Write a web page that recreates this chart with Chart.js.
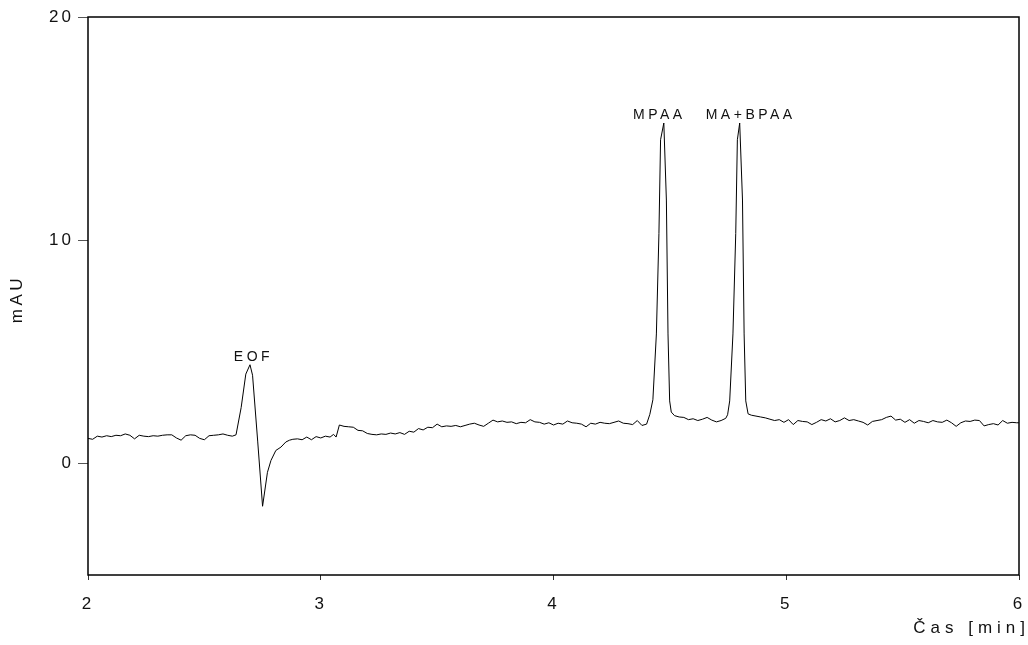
<!DOCTYPE html>
<html>
<head>
<meta charset="utf-8">
<title>Elektroferogram</title>
<script src="https://cdn.jsdelivr.net/npm/chart.js@4.4.0/dist/chart.umd.min.js"></script>
<style>
  html, body { margin: 0; padding: 0; background: #fff; overflow: hidden; }
  #wrap { position: relative; width: 1028px; height: 645px; }
  #elfChart { display: block; }
</style>
</head>
<body>
<div id="wrap"><canvas id="elfChart"></canvas></div>
<script>
// detector trace: time [min] and absorbance [mAU]
const times = [
  2.00, 2.02, 2.04, 2.06, 2.08, 2.10, 2.12, 2.14, 2.16, 2.18,
  2.20, 2.22, 2.24, 2.26, 2.28, 2.30, 2.32, 2.34, 2.36, 2.38,
  2.40, 2.42, 2.44, 2.46, 2.48, 2.50, 2.52, 2.54, 2.56, 2.58,
  2.60, 2.62, 2.636, 2.658, 2.678, 2.696, 2.707, 2.729, 2.750, 2.771,
  2.786, 2.807, 2.829, 2.850, 2.866, 2.88, 2.90, 2.92, 2.94, 2.96,
  2.98, 3.00, 3.02, 3.04, 3.055, 3.066, 3.08, 3.10, 3.12, 3.14,
  3.16, 3.18, 3.20, 3.22, 3.24, 3.26, 3.28, 3.30, 3.32, 3.34,
  3.36, 3.38, 3.40, 3.42, 3.44, 3.46, 3.48, 3.50, 3.52, 3.54,
  3.56, 3.58, 3.60, 3.62, 3.64, 3.66, 3.68, 3.70, 3.72, 3.74,
  3.76, 3.78, 3.80, 3.82, 3.84, 3.86, 3.88, 3.90, 3.92, 3.94,
  3.96, 3.98, 4.00, 4.02, 4.04, 4.06, 4.08, 4.10, 4.12, 4.14,
  4.16, 4.18, 4.20, 4.22, 4.24, 4.26, 4.28, 4.30, 4.32, 4.34,
  4.36, 4.38, 4.40, 4.414, 4.427, 4.442, 4.453, 4.460, 4.474, 4.485,
  4.492, 4.499, 4.506, 4.52, 4.54, 4.56, 4.58, 4.60, 4.62, 4.64,
  4.66, 4.68, 4.70, 4.72, 4.74, 4.748, 4.757, 4.771, 4.783, 4.790,
  4.800, 4.812, 4.819, 4.826, 4.836, 4.85, 4.87, 4.89, 4.91, 4.93,
  4.95, 4.97, 4.99, 5.01, 5.03, 5.05, 5.07, 5.09, 5.11, 5.13,
  5.15, 5.17, 5.19, 5.21, 5.23, 5.25, 5.27, 5.29, 5.31, 5.33,
  5.35, 5.37, 5.39, 5.41, 5.43, 5.45, 5.47, 5.49, 5.51, 5.53,
  5.55, 5.57, 5.59, 5.61, 5.63, 5.65, 5.67, 5.69, 5.71, 5.73,
  5.75, 5.77, 5.79, 5.81, 5.83, 5.85, 5.87, 5.89, 5.91, 5.93,
  5.95, 5.97, 5.99, 6.00
];
const absorbance = [
  1.12, 1.08, 1.22, 1.18, 1.24, 1.20, 1.26, 1.24, 1.32, 1.26,
  1.10, 1.26, 1.22, 1.20, 1.24, 1.22, 1.26, 1.28, 1.28, 1.14,
  1.04, 1.24, 1.28, 1.26, 1.12, 1.06, 1.24, 1.26, 1.28, 1.32,
  1.26, 1.22, 1.28, 2.50, 4.00, 4.42, 3.95, 1.00, -1.92, -0.40,
  0.13, 0.58, 0.73, 0.96, 1.04, 1.08, 1.10, 1.06, 1.18, 1.06,
  1.20, 1.14, 1.22, 1.18, 1.30, 1.18, 1.72, 1.66, 1.64, 1.62,
  1.48, 1.46, 1.34, 1.30, 1.28, 1.32, 1.30, 1.36, 1.32, 1.38,
  1.30, 1.44, 1.40, 1.56, 1.50, 1.62, 1.60, 1.76, 1.64, 1.68,
  1.66, 1.70, 1.64, 1.70, 1.76, 1.80, 1.72, 1.66, 1.80, 1.94,
  1.86, 1.90, 1.84, 1.86, 1.78, 1.84, 1.82, 1.96, 1.86, 1.84,
  1.76, 1.82, 1.72, 1.80, 1.76, 1.90, 1.82, 1.80, 1.76, 1.64,
  1.80, 1.76, 1.84, 1.80, 1.78, 1.84, 1.90, 1.80, 1.78, 1.74,
  1.92, 1.70, 1.76, 2.20, 2.85, 5.80, 10.30, 14.50, 15.25, 11.80,
  5.80, 2.80, 2.30, 2.14, 2.08, 2.06, 1.96, 2.00, 1.92, 1.98,
  2.06, 1.94, 1.86, 1.92, 2.02, 2.18, 2.80, 5.80, 10.30, 14.50,
  15.25, 11.80, 5.80, 2.80, 2.22, 2.16, 2.12, 2.08, 2.04, 1.98,
  1.92, 1.96, 1.84, 1.96, 1.74, 1.92, 1.88, 1.86, 1.74, 1.84,
  1.96, 1.90, 2.00, 1.86, 1.92, 2.04, 1.92, 1.96, 1.90, 1.84,
  1.72, 1.88, 1.92, 1.96, 2.06, 2.12, 1.94, 1.98, 1.84, 1.96,
  1.80, 1.92, 1.88, 1.82, 1.92, 1.86, 1.84, 1.94, 1.82, 1.66,
  1.82, 1.90, 1.88, 1.94, 1.92, 1.68, 1.74, 1.78, 1.72, 1.92,
  1.80, 1.84, 1.82, 1.82
];

const xTicks = [2, 3, 4, 5, 6];
const yTicks = [0, 10, 20];

// peak annotations, placed on the trace maximum at these times
const peakNames = ['EOF', 'MPAA', 'MA+BPAA'];
const peakTimes = [2.696, 4.474, 4.800];

const FONT = '"Liberation Sans", Arial, Helvetica, sans-serif';
const SPACING = '3px';

// Chart.js has no letter-spacing option, so put it on the context before drawing
const spacedText = {
  id: 'spacedText',
  beforeDraw(chart) {
    chart.ctx.letterSpacing = SPACING;
  }
};

const frameAndCaptions = {
  id: 'frameAndCaptions',
  afterDraw(chart) {
    const { ctx, chartArea: a, scales: { x, y } } = chart;
    ctx.save();
    ctx.strokeStyle = '#000';
    ctx.lineWidth = 1.5;
    ctx.strokeRect(a.left, a.top, a.right - a.left, a.bottom - a.top);

    ctx.fillStyle = '#111';
    ctx.font = '14px ' + FONT;
    ctx.letterSpacing = '3.5px';
    ctx.textAlign = 'center';
    ctx.textBaseline = 'alphabetic';
    const nudge = [3.5, -4.5, 11];
    peakNames.forEach((name, i) => {
      const k = times.indexOf(peakTimes[i]);
      ctx.fillText(name,
        x.getPixelForValue(times[k]) + nudge[i],
        y.getPixelForValue(absorbance[k]) - 4);
    });

    ctx.font = '17px ' + FONT;
    ctx.letterSpacing = '5px';
    ctx.textAlign = 'right';
    ctx.textBaseline = 'middle';
    ctx.fillText('Čas [min]', a.right + 11, a.bottom + 53);

    ctx.letterSpacing = '3.5px';
    ctx.translate(17, (a.top + a.bottom) / 2 + 3);
    ctx.rotate(-Math.PI / 2);
    ctx.textAlign = 'center';
    ctx.fillText('mAU', 0, 0);
    ctx.restore();
  }
};

new Chart(document.getElementById('elfChart'), {
  type: 'line',
  data: {
    datasets: [{
      data: times.map((t, i) => ({ x: t, y: absorbance[i] })),
      borderColor: '#000',
      borderWidth: 1,
      pointRadius: 0,
      tension: 0,
      fill: false
    }]
  },
  options: {
    responsive: true,
    maintainAspectRatio: false,
    animation: false,
    layout: { padding: { top: 17, right: 9, left: 0, bottom: 0 } },
    plugins: {
      legend: { display: false },
      tooltip: { enabled: false }
    },
    scales: {
      x: {
        type: 'linear',
        min: 2,
        max: 6,
        afterBuildTicks: s => { s.ticks = xTicks.map(v => ({ value: v })); },
        afterFit: s => {
          s.height = 70;
          s.paddingLeft = 0;
          s.paddingRight = 0;
        },
        border: { display: false },
        grid: { drawOnChartArea: false, tickLength: 5, color: '#333' },
        ticks: { color: '#111', padding: 14, font: { family: FONT, size: 17 }, maxRotation: 0 }
      },
      y: {
        min: -5,
        max: 20,
        afterBuildTicks: s => { s.ticks = yTicks.map(v => ({ value: v })); },
        afterFit: s => { s.width = 88; },
        border: { display: false },
        grid: { drawOnChartArea: false, tickLength: 10, color: '#555' },
        ticks: { color: '#111', padding: 4, font: { family: FONT, size: 17 } }
      }
    }
  },
  plugins: [spacedText, frameAndCaptions]
});
</script>
</body>
</html>
